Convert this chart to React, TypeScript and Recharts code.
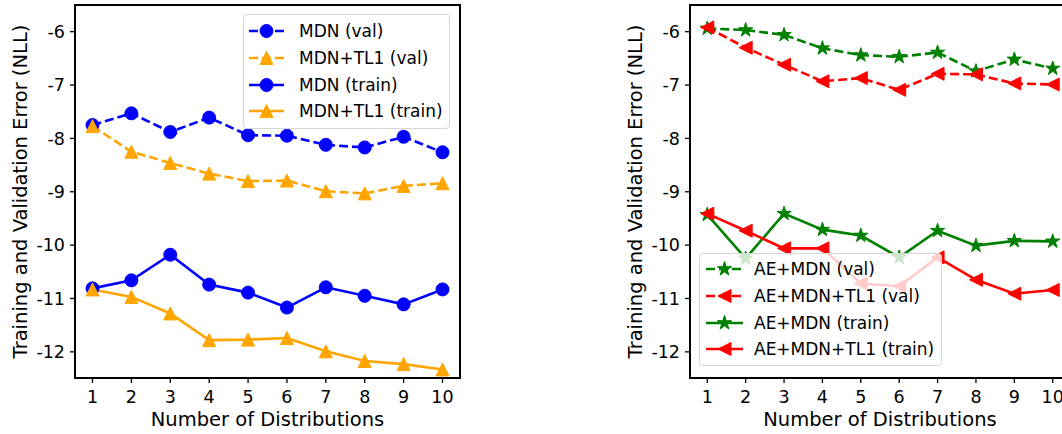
import React from "react";
import { LineChart, Line, XAxis, YAxis, Legend, ReferenceArea } from "recharts";

// number of mixture components on the x axis
const distributions = [1, 2, 3, 4, 5, 6, 7, 8, 9, 10];
const yTicks = [-12, -11, -10, -9, -8, -7, -6];

// left panel: plain MDN
const mdnVal = [-7.75, -7.53, -7.88, -7.61, -7.94, -7.95, -8.12, -8.17, -7.97, -8.26];
const mdnTl1Val = [-7.77, -8.25, -8.46, -8.66, -8.8, -8.79, -8.99, -9.03, -8.89, -8.84];
const mdnTrain = [-10.81, -10.66, -10.18, -10.74, -10.89, -11.17, -10.79, -10.95, -11.11, -10.83];
const mdnTl1Train = [-10.83, -10.97, -11.28, -11.78, -11.77, -11.74, -11.99, -12.17, -12.23, -12.33];

// right panel: autoencoder + MDN
const aeMdnVal = [-5.94, -5.97, -6.06, -6.31, -6.44, -6.47, -6.39, -6.74, -6.52, -6.69];
const aeMdnTl1Val = [-5.92, -6.3, -6.62, -6.93, -6.87, -7.09, -6.79, -6.8, -6.97, -6.99];
const aeMdnTrain = [-9.43, -10.25, -9.41, -9.71, -9.82, -10.23, -9.73, -10.01, -9.92, -9.93];
const aeMdnTl1Train = [-9.41, -9.73, -10.06, -10.06, -10.72, -10.77, -10.23, -10.65, -10.91, -10.84];

const FONT = "DejaVu Sans";
const X_DOMAIN: [number, number] = [0.55, 10.45];
const Y_DOMAIN: [number, number] = [-12.49, -5.5];
const LINE_W = 2.6;
const DASH = "9 4";

type Shape = "circle" | "triUp" | "triLeft" | "star";

interface Series {
  key: string;
  label: string;
  color: string;
  dashed: boolean;
  shape: Shape;
  values: number[];
}

const leftSeries: Series[] = [
  { key: "mdnVal", label: "MDN (val)", color: "#0000ff", dashed: true, shape: "circle", values: mdnVal },
  { key: "mdnTl1Val", label: "MDN+TL1 (val)", color: "#ffa500", dashed: true, shape: "triUp", values: mdnTl1Val },
  { key: "mdnTrain", label: "MDN (train)", color: "#0000ff", dashed: false, shape: "circle", values: mdnTrain },
  { key: "mdnTl1Train", label: "MDN+TL1 (train)", color: "#ffa500", dashed: false, shape: "triUp", values: mdnTl1Train },
];

const rightSeries: Series[] = [
  { key: "aeMdnVal", label: "AE+MDN (val)", color: "#008000", dashed: true, shape: "star", values: aeMdnVal },
  { key: "aeMdnTl1Val", label: "AE+MDN+TL1 (val)", color: "#ff0000", dashed: true, shape: "triLeft", values: aeMdnTl1Val },
  { key: "aeMdnTrain", label: "AE+MDN (train)", color: "#008000", dashed: false, shape: "star", values: aeMdnTrain },
  { key: "aeMdnTl1Train", label: "AE+MDN+TL1 (train)", color: "#ff0000", dashed: false, shape: "triLeft", values: aeMdnTl1Train },
];

function Marker({ shape, cx, cy, color }: { shape: Shape; cx: number; cy: number; color: string }) {
  if (shape === "circle") {
    return <circle cx={cx} cy={cy} r={6.5} fill={color} stroke={color} strokeWidth={1} />;
  }
  let pts: number[][] = [];
  if (shape === "triUp") {
    const s = 6.5;
    pts = [[cx, cy - s], [cx - s, cy + s], [cx + s, cy + s]];
  } else if (shape === "triLeft") {
    const s = 6.5;
    pts = [[cx - s, cy], [cx + s, cy - s], [cx + s, cy + s]];
  } else {
    const s = 7.5;
    const inner = s * 0.381966;
    for (let i = 0; i < 10; i++) {
      const r = i % 2 === 0 ? s : inner;
      const a = -Math.PI / 2 + (i * Math.PI) / 5;
      pts.push([cx + r * Math.cos(a), cy + r * Math.sin(a)]);
    }
  }
  return (
    <polygon
      points={pts.map((p) => p.join(",")).join(" ")}
      fill={color}
      stroke={color}
      strokeWidth={1}
      strokeLinejoin="miter"
    />
  );
}

function LegendBox({ items, width, padTop, padLeft, gap, sample }: {
  items: Series[]; width: number; padTop: number; padLeft: number; gap: number; sample: number;
}) {
  return (
    <div
      style={{
        width,
        boxSizing: "border-box",
        background: "rgba(255,255,255,0.8)",
        border: "1px solid #d6d6d6",
        borderRadius: 4,
        padding: `${padTop}px 4px ${padTop}px ${padLeft}px`,
        fontFamily: FONT,
        fontSize: 17,
        color: "#000",
      }}
    >
      {items.map((it) => (
        <div key={it.key} style={{ display: "flex", alignItems: "center", height: 26.7 }}>
          <svg width={sample} height={20} style={{ overflow: "visible", flex: "none" }}>
            <line
              x1={0}
              x2={sample}
              y1={10}
              y2={10}
              stroke={it.color}
              strokeWidth={LINE_W}
              strokeDasharray={it.dashed ? DASH : undefined}
            />
            <Marker shape={it.shape} cx={sample / 2} cy={10} color={it.color} />
          </svg>
          <span style={{ marginLeft: gap, whiteSpace: "nowrap" }}>{it.label}</span>
        </div>
      ))}
    </div>
  );
}

function Panel({ series, width, legendPos, legendProps }: {
  series: Series[];
  width: number;
  legendPos: { left: number; top: number };
  legendProps: { width: number; padTop: number; padLeft: number; gap: number; sample: number };
}) {
  const data = distributions.map((x, i) => {
    const row: Record<string, number> = { x };
    series.forEach((s) => {
      row[s.key] = s.values[i];
    });
    return row;
  });
  const tickStyle = { fontFamily: FONT, fontSize: 17.5, fill: "#000" };
  return (
    <LineChart width={width} height={434} data={data} margin={{ top: 5, right: 10, left: 0, bottom: 0 }}>
      <XAxis
        dataKey="x"
        type="number"
        domain={X_DOMAIN}
        ticks={distributions}
        allowDataOverflow
        height={56}
        axisLine={false}
        tickSize={5}
        tickMargin={8}
        tickLine={{ stroke: "#000", strokeWidth: 1.3 }}
        tick={tickStyle}
        label={{
          value: "Number of Distributions",
          position: "insideBottom",
          offset: 8,
          style: { fontFamily: FONT, fontSize: 19.5, fill: "#000" },
        }}
      />
      <YAxis
        type="number"
        domain={Y_DOMAIN}
        ticks={yTicks}
        allowDataOverflow
        width={75}
        axisLine={false}
        tickSize={5}
        tickMargin={5}
        tickLine={{ stroke: "#000", strokeWidth: 1.3 }}
        tick={tickStyle}
        label={{
          value: "Training and Validation Error (NLL)",
          angle: -90,
          position: "insideLeft",
          offset: 20,
          style: { fontFamily: FONT, fontSize: 19.5, fill: "#000", textAnchor: "middle" },
        }}
      />
      <ReferenceArea
        x1={X_DOMAIN[0]}
        x2={X_DOMAIN[1]}
        y1={Y_DOMAIN[0]}
        y2={Y_DOMAIN[1]}
        fill="none"
        stroke="#000"
        strokeWidth={2}
        ifOverflow="visible"
      />
      {series.map((s) => (
        <Line
          key={s.key}
          dataKey={s.key}
          type="linear"
          stroke={s.color}
          strokeWidth={LINE_W}
          strokeDasharray={s.dashed ? DASH : undefined}
          isAnimationActive={false}
          activeDot={false}
          dot={(p: any) => (
            <Marker key={`${s.key}-${p.index}`} shape={s.shape} cx={p.cx} cy={p.cy} color={s.color} />
          )}
        />
      ))}
      <Legend
        layout="vertical"
        align="center"
        verticalAlign="middle"
        wrapperStyle={{ left: legendPos.left, top: legendPos.top, width: "auto", height: "auto" }}
        content={() => <LegendBox items={series} {...legendProps} />}
      />
    </LineChart>
  );
}

export default function App() {
  return (
    <div
      style={{
        position: "absolute",
        left: 0,
        top: 0,
        width: 1062,
        height: 434,
        overflow: "hidden",
        background: "#fff",
      }}
    >
      <div style={{ position: "absolute", left: 0, top: 0 }}>
        <Panel
          series={leftSeries}
          width={470}
          legendPos={{ left: 243, top: 14 }}
          legendProps={{ width: 207, padTop: 3, padLeft: 5, gap: 15, sample: 35 }}
        />
      </div>
      <div style={{ position: "absolute", left: 615, top: 0 }}>
        <Panel
          series={rightSeries}
          width={465}
          legendPos={{ left: 84, top: 253 }}
          legendProps={{ width: 243, padTop: 2, padLeft: 6, gap: 11, sample: 37 }}
        />
      </div>
    </div>
  );
}
